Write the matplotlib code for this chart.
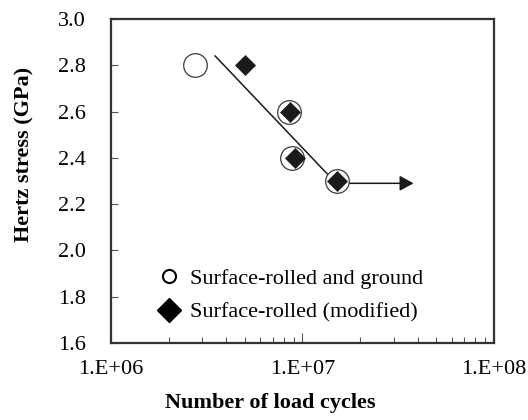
import matplotlib
matplotlib.use("Agg")
import matplotlib.pyplot as plt
from matplotlib.lines import Line2D
from matplotlib.ticker import NullFormatter, LogLocator

plt.rcParams["font.family"] = ["Liberation Serif", "DejaVu Serif"]

# data
ground_cycles = [2.73e6, 8.5e6, 8.8e6, 1.51e7]
ground_stress = [2.80, 2.60, 2.40, 2.30]
modified_cycles = [5.0e6, 8.6e6, 9.1e6, 1.51e7]
modified_stress = [2.80, 2.60, 2.40, 2.30]

trend_cycles = [3.5e6, 1.5e7]
trend_stress = [2.84, 2.29]
runout_cycles = [1.5e7, 3.8e7]
runout_stress = [2.29, 2.29]

x_ticks = [1e6, 1e7, 1e8]
x_tick_labels = ["1.E+06", "1.E+07", "1.E+08"]
y_ticks = [1.6, 1.8, 2.0, 2.2, 2.4, 2.6, 2.8, 3.0]

fig = plt.figure(figsize=(5.28, 4.2), dpi=100)
ax = fig.add_axes([0.2102, 0.1833, 0.7254, 0.7715])

ax.plot(trend_cycles, trend_stress, color="#1a1a1a", lw=1.1, zorder=2)
ax.annotate("", xy=(runout_cycles[1], runout_stress[1]),
            xytext=(runout_cycles[0], runout_stress[0]),
            arrowprops=dict(arrowstyle="-|>,head_length=0.4,head_width=0.22",
                            mutation_scale=21, color="#1a1a1a", lw=1.1,
                            shrinkA=0, shrinkB=0),
            zorder=2)

ax.plot(ground_cycles, ground_stress, ls="none", marker="o", ms=17,
        mfc="white", mec="#3a3a3a", mew=0.9, zorder=3)
ax.plot(modified_cycles, modified_stress, ls="none", marker="D", ms=10.2,
        mfc="#1a1a1a", mec="#1a1a1a", mew=0.5, zorder=4)

ax.set_xscale("log")
ax.set_xlim(1e6, 1e8)
ax.set_ylim(1.6, 3.0)
ax.set_xticks(x_ticks, x_tick_labels)
ax.xaxis.set_minor_locator(LogLocator(base=10, subs=range(2, 10)))
ax.xaxis.set_minor_formatter(NullFormatter())
ax.set_yticks(y_ticks, [f"{v:.1f}" for v in y_ticks])

ax.tick_params(axis="x", which="major", direction="in", length=7, width=0.8,
               colors="#555555", labelcolor="black", labelsize=16, pad=12)
ax.tick_params(axis="x", which="minor", direction="in", length=4.5, width=0.8,
               colors="#555555")
ax.tick_params(axis="y", direction="in", length=5, width=0.8,
               colors="#555555", labelcolor="black", labelsize=16, pad=18)

for s in ax.spines.values():
    s.set_color("#333333")
    s.set_linewidth(1.6)

ax.set_xlabel("Number of load cycles", fontsize=16, fontweight="bold")
ax.xaxis.set_label_coords(0.416, -0.185)
ax.xaxis.label.set_va("center")
ax.set_ylabel("Hertz stress (GPa)", fontsize=16, fontweight="bold")
ax.yaxis.set_label_coords(-0.227, 0.583)
ax.yaxis.label.set_va("center")

handles = [
    Line2D([], [], ls="none", marker="o", ms=9.4, mfc="white", mec="black", mew=1.5),
    Line2D([], [], ls="none", marker="D", ms=12, mfc="black", mec="black"),
]
ax.legend(handles, ["Surface-rolled and ground", "Surface-rolled (modified)"],
          loc="lower left", bbox_to_anchor=(0.10, 0.036), frameon=False,
          fontsize=16, handlelength=1.0, handletextpad=0.45, labelspacing=0.6,
          borderaxespad=0)

fig.savefig("out.png", dpi=100)
